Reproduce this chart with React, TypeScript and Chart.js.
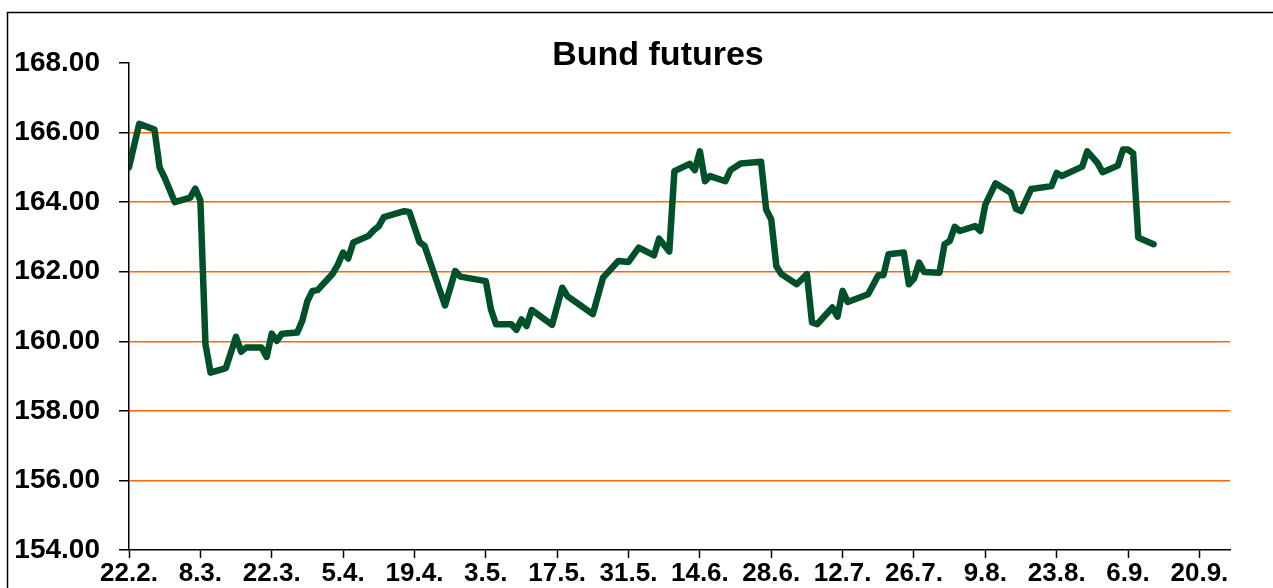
import { useEffect, useRef } from "react";
import { Chart, registerables } from "chart.js";

Chart.register(...registerables);

const chartTitle = "Bund futures";

const dates = [
  "2017-02-22", "2017-02-24", "2017-02-27", "2017-02-28", "2017-03-01", "2017-03-03",
  "2017-03-06", "2017-03-07", "2017-03-08", "2017-03-09", "2017-03-10", "2017-03-13",
  "2017-03-15", "2017-03-16", "2017-03-17", "2017-03-20", "2017-03-21", "2017-03-22",
  "2017-03-23", "2017-03-24", "2017-03-27", "2017-03-28", "2017-03-29", "2017-03-30",
  "2017-03-31", "2017-04-03", "2017-04-04", "2017-04-05", "2017-04-06", "2017-04-07",
  "2017-04-10", "2017-04-11", "2017-04-12", "2017-04-13", "2017-04-17", "2017-04-18",
  "2017-04-20", "2017-04-21", "2017-04-25", "2017-04-27", "2017-04-28", "2017-05-03",
  "2017-05-04", "2017-05-05", "2017-05-08", "2017-05-09", "2017-05-10", "2017-05-11",
  "2017-05-12", "2017-05-16", "2017-05-18", "2017-05-19", "2017-05-24", "2017-05-26",
  "2017-05-29", "2017-05-31", "2017-06-02", "2017-06-05", "2017-06-06", "2017-06-08",
  "2017-06-09", "2017-06-12", "2017-06-13", "2017-06-14", "2017-06-15", "2017-06-16",
  "2017-06-19", "2017-06-20", "2017-06-22", "2017-06-26", "2017-06-27", "2017-06-28",
  "2017-06-29", "2017-06-30", "2017-07-03", "2017-07-05", "2017-07-06", "2017-07-07",
  "2017-07-10", "2017-07-11", "2017-07-12", "2017-07-13", "2017-07-17", "2017-07-19",
  "2017-07-20", "2017-07-21", "2017-07-24", "2017-07-25", "2017-07-26", "2017-07-27",
  "2017-07-28", "2017-07-31", "2017-08-01", "2017-08-02", "2017-08-03", "2017-08-04",
  "2017-08-07", "2017-08-08", "2017-08-09", "2017-08-11", "2017-08-14", "2017-08-15",
  "2017-08-16", "2017-08-18", "2017-08-22", "2017-08-23", "2017-08-24", "2017-08-28",
  "2017-08-29", "2017-08-31", "2017-09-01", "2017-09-04", "2017-09-05", "2017-09-06",
  "2017-09-07", "2017-09-08", "2017-09-11",
];

const values = [
  165.0, 166.25, 166.09, 165.0, 164.7, 164.0,
  164.13, 164.39, 164.05, 159.92, 159.1, 159.23,
  160.13, 159.7, 159.82, 159.82, 159.55, 160.22,
  160.01, 160.22, 160.25, 160.59, 161.16, 161.45,
  161.47, 161.95, 162.21, 162.55, 162.38, 162.84,
  163.03, 163.19, 163.31, 163.57, 163.74, 163.72,
  162.85, 162.74, 161.03, 162.02, 161.86, 161.73,
  160.92, 160.49, 160.49, 160.33, 160.63, 160.44,
  160.9, 160.47, 161.54, 161.3, 160.78, 161.83,
  162.31, 162.28, 162.69, 162.47, 162.95, 162.58,
  164.89, 165.1, 164.92, 165.46, 164.6, 164.75,
  164.6, 164.92, 165.11, 165.16, 163.79, 163.5,
  162.16, 161.93, 161.64, 161.93, 160.54, 160.49,
  160.97, 160.71, 161.45, 161.13, 161.35, 161.9,
  161.9, 162.5, 162.55, 161.64, 161.8, 162.26,
  161.99, 161.97, 162.79, 162.88, 163.29, 163.17,
  163.31, 163.17, 163.93, 164.54, 164.27, 163.81,
  163.74, 164.38, 164.46, 164.84, 164.75, 165.02,
  165.46, 165.13, 164.86, 165.05, 165.51, 165.51,
  165.4, 162.98, 162.79,
];

const tickDates = [
  "2017-02-22", "2017-03-08", "2017-03-22", "2017-04-05", "2017-04-19", "2017-05-03",
  "2017-05-17", "2017-05-31", "2017-06-14", "2017-06-28", "2017-07-12", "2017-07-26",
  "2017-08-09", "2017-08-23", "2017-09-06", "2017-09-20",
];
const xAxisEndDate = "2017-09-26";

const yMin = 154;
const yMax = 168;
const yStep = 2;

const DAY_MS = 86400000;
const baseMs = Date.parse(dates[0] + "T00:00:00Z");
const toDay = (s: string) => Math.round((Date.parse(s + "T00:00:00Z") - baseMs) / DAY_MS);
const fmtDay = (day: number) => {
  const d = new Date(baseMs + day * DAY_MS);
  return `${d.getUTCDate()}.${d.getUTCMonth() + 1}.`;
};

const FONT = '"Liberation Sans", Arial, sans-serif';

const framePlugin = {
  id: "frame",
  beforeDraw(chart: any) {
    const ctx = chart.ctx;
    ctx.save();
    ctx.fillStyle = "#ffffff";
    ctx.fillRect(0, 0, chart.width, chart.height);
    ctx.strokeStyle = "#000000";
    ctx.lineWidth = 1.5;
    ctx.beginPath();
    ctx.moveTo(7.5, chart.height + 10);
    ctx.lineTo(7.5, 12.5);
    ctx.lineTo(chart.width + 10, 12.5);
    ctx.stroke();
    ctx.restore();
  },
};

const titlePlugin = {
  id: "titleText",
  afterDraw(chart: any) {
    const ctx = chart.ctx;
    ctx.save();
    ctx.font = `bold 34px ${FONT}`;
    ctx.fillStyle = "#000000";
    ctx.textAlign = "center";
    ctx.textBaseline = "alphabetic";
    ctx.fillText(chartTitle, chart.width / 2, 65);
    ctx.restore();
  },
};

export default function App() {
  const canvasRef = useRef<HTMLCanvasElement | null>(null);

  useEffect(() => {
    if (!canvasRef.current) return;
    const points = dates.map((d, i) => ({ x: toDay(d), y: values[i] }));
    const chart = new Chart(canvasRef.current, {
      type: "line",
      data: {
        datasets: [
          {
            label: chartTitle,
            data: points,
            borderColor: "#00502a",
            borderWidth: 6.5,
            pointRadius: 0,
            tension: 0,
            borderJoinStyle: "round",
            borderCapStyle: "round",
            fill: false,
          },
        ],
      },
      options: {
        animation: false,
        responsive: false,
        maintainAspectRatio: false,
        layout: { padding: { left: 0, top: 63, right: 86, bottom: 0 } },
        plugins: {
          legend: { display: false },
          title: { display: false },
          tooltip: { enabled: false },
        },
        scales: {
          x: {
            type: "linear",
            min: 0,
            max: toDay(xAxisEndDate),
            afterBuildTicks: (scale: any) => {
              scale.ticks = tickDates.map((d) => ({ value: toDay(d) }));
            },
            afterFit: (scale: any) => {
              scale.height = 50;
            },
            grid: {
              drawOnChartArea: false,
              drawTicks: true,
              tickLength: 8,
              tickColor: "#000000",
              tickWidth: 1.5,
            },
            border: { display: true, color: "#000000", width: 1.5 },
            ticks: {
              autoSkip: false,
              maxRotation: 0,
              minRotation: 0,
              padding: 0,
              color: "#000000",
              font: { family: FONT, size: 26, weight: "bold" },
              callback: (v: any) => fmtDay(Number(v)),
            },
          },
          y: {
            type: "linear",
            min: yMin,
            max: yMax,
            afterFit: (scale: any) => {
              scale.width = 129;
            },
            grid: {
              color: (c: any) =>
                c.tick && (c.tick.value === yMax || c.tick.value === yMin)
                  ? "rgba(0,0,0,0)"
                  : "#ff6a00",
              lineWidth: 1.5,
              drawTicks: true,
              tickLength: 10,
              tickColor: "#000000",
              tickWidth: 1.5,
            },
            border: { display: true, color: "#000000", width: 1.5 },
            ticks: {
              stepSize: yStep,
              padding: 19,
              color: "#000000",
              font: { family: FONT, size: 28, weight: "bold" },
              callback: (v: any) => Number(v).toFixed(2),
            },
          },
        },
      },
      plugins: [framePlugin, titlePlugin],
    });
    return () => chart.destroy();
  }, []);

  return (
    <div
      style={{
        position: "absolute",
        left: 0,
        top: 0,
        width: 1273,
        height: 588,
        overflow: "hidden",
        background: "#ffffff",
      }}
    >
      <canvas ref={canvasRef} width={1316} height={600} style={{ display: "block" }} />
    </div>
  );
}
